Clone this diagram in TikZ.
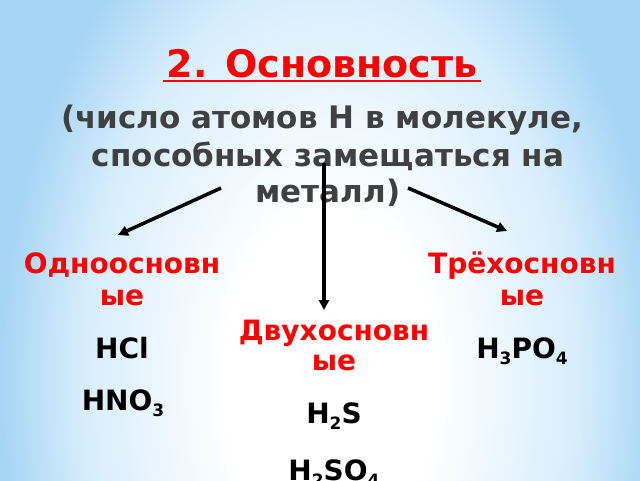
\documentclass[tikz,border=0pt]{standalone}
\usepackage{fontspec}
\setmainfont{DejaVu Sans}
\usepackage{tikz}
\usetikzlibrary{arrows.meta}
\definecolor{titlered}{HTML}{FF0000}
\definecolor{captiongrey}{HTML}{404040}
\definecolor{slideblue}{HTML}{A6D5F5}
\definecolor{slidepale}{HTML}{D6EDFC}
\pgfdeclareradialshading{slidebg}{\pgfpoint{0bp}{0bp}}{color(0bp)=(white); color(8bp)=(white); color(19bp)=(slidepale); color(25bp)=(slideblue); color(50bp)=(slideblue)}
\newcommand{\chemsub}[1]{\raisebox{-6pt}{\fontsize{17}{17}\selectfont #1}}

\begin{document}
\begin{tikzpicture}[x=1pt, y=-1pt,
		caption/.style={anchor=base, inner sep=0pt, text=captiongrey, font=\fontsize{31}{37}\selectfont\bfseries},
		kind/.style={anchor=base, inner sep=0pt, text=titlered, font=\fontsize{28}{32}\selectfont\bfseries},
		formula/.style={anchor=base, inner sep=0pt, font=\fontsize{28}{32}\selectfont\bfseries},
		branch/.style={line width=3.5pt, -{Triangle[length=10pt, width=10pt]}}]
		\useasboundingbox (0, 0) rectangle (640, 480);
		\begin{scope}
			\clip (0, 0) rectangle (640, 480);
			\begin{scope}[shift={(330, 380)}, xscale=0.625]
				\shade[shading=slidebg] (-528, -528) rectangle (528, 528);
			\end{scope}
		\end{scope}

		\node[anchor=base, inner xsep=3pt, inner ysep=0pt, text=titlered, font=\fontsize{38}{44}\selectfont\bfseries] at (322, 77) (title) {2. Основность};
		\draw[titlered, line width=2.5pt] ([yshift=-4pt]title.base west) -- ([yshift=-4pt]title.base east);

		\node[caption] at (322, 128) (sub1) {(число атомов Н в молекуле,};
		\node[caption] at (328, 166) (sub2) {способных замещаться на};
		\node[caption] at (328, 202) (sub3) {металл)};

		\node[kind] at (122, 273) (one) {Одноосновн};
		\node[kind] at (122, 305) (oneb) {ые};
		\node[kind] at (334, 340) (two) {Двухосновн};
		\node[kind] at (334, 370) (twob) {ые};
		\node[kind] at (522, 273) (three) {Трёхосновн};
		\node[kind] at (522, 305) (threeb) {ые};

		\node[formula] at (122, 358) (hcl) {HCl};
		\node[formula] at (123, 410) (hno) {HNO\chemsub{3}};
		\node[formula] at (334, 423) (hs) {H\chemsub{2}S};
		\node[formula] at (334, 480) (hso) {H\chemsub{2}SO\chemsub{4}};
		\node[formula] at (522, 358) (hpo) {H\chemsub{3}PO\chemsub{4}};

		\coordinate (splitl) at (221, 188);
		\coordinate (splitm) at (324, 163);
		\coordinate (splitr) at (408, 188);
		\coordinate (tipl) at (118, 235);
		\coordinate (tipm) at (324, 310);
		\coordinate (tipr) at (507, 231);

		\draw[branch] (splitl) -- (tipl);
		\draw[branch] (splitm) -- (tipm);
		\draw[branch] (splitr) -- (tipr);
	\end{tikzpicture}
\end{document}
